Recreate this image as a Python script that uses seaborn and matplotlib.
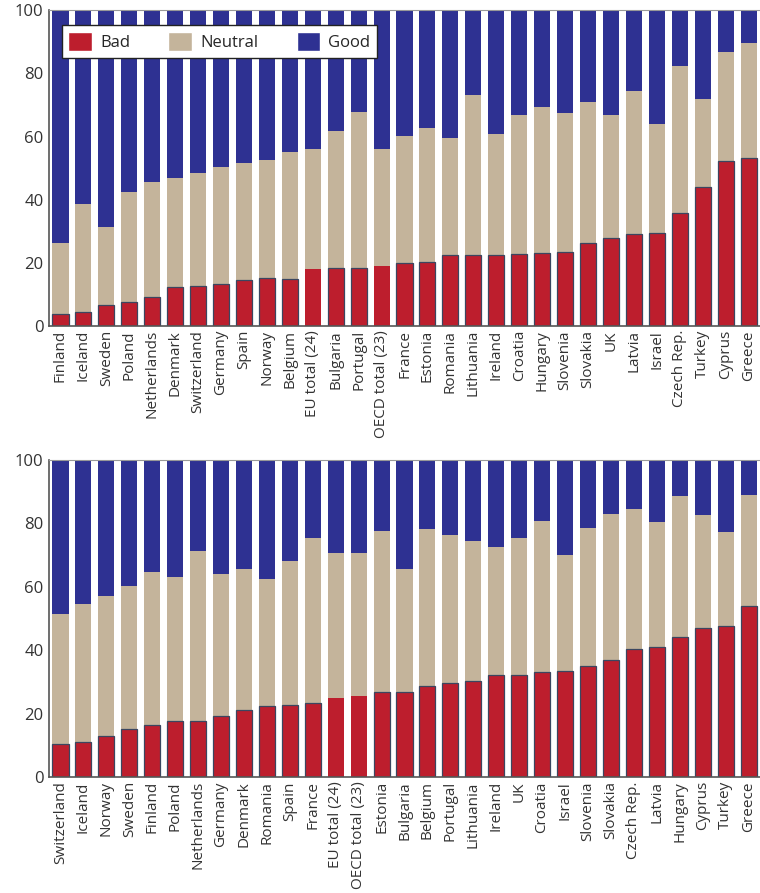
import numpy as np
import pandas as pd
import matplotlib
matplotlib.use("Agg")
import matplotlib.pyplot as plt
from matplotlib.patches import Patch
import seaborn as sns

# Top panel
top_countries = ["Finland", "Iceland", "Sweden", "Poland", "Netherlands", "Denmark",
                 "Switzerland", "Germany", "Spain", "Norway", "Belgium", "EU total (24)",
                 "Bulgaria", "Portugal", "OECD total (23)", "France", "Estonia", "Romania",
                 "Lithuania", "Ireland", "Croatia", "Hungary", "Slovenia", "Slovakia", "UK",
                 "Latvia", "Israel", "Czech Rep.", "Turkey", "Cyprus", "Greece"]
top_bad = [3.7, 4.3, 6.6, 7.5, 9.2, 12.3, 12.6, 13.2, 14.5, 15.1, 14.8, 17.9,
           18.5, 18.4, 18.9, 19.8, 20.1, 22.4, 22.4, 22.4, 22.7, 23.0, 23.3, 26.4, 28.0,
           29.0, 29.5, 35.7, 44.1, 52.4, 53.1]
top_neutral = [22.5, 34.2, 24.6, 34.8, 36.3, 34.7, 35.7, 37.0, 37.0, 37.6, 40.2, 38.0,
               43.4, 49.5, 37.3, 40.5, 42.5, 37.0, 50.9, 38.3, 44.0, 46.5, 44.3, 44.4, 38.7,
               45.3, 34.6, 46.8, 27.9, 34.5, 36.4]
top_good = [73.8, 61.5, 68.8, 57.7, 54.5, 53.0, 51.7, 49.8, 48.5, 47.3, 45.0, 44.1,
            38.1, 32.1, 43.8, 39.7, 37.4, 40.6, 26.7, 39.3, 33.3, 30.5, 32.4, 29.2, 33.3,
            25.7, 35.9, 17.5, 28.0, 13.1, 10.5]

# Bottom panel
bot_countries = ["Switzerland", "Iceland", "Norway", "Sweden", "Finland", "Poland",
                 "Netherlands", "Germany", "Denmark", "Romania", "Spain", "France",
                 "EU total (24)", "OECD total (23)", "Estonia", "Bulgaria", "Belgium",
                 "Portugal", "Lithuania", "Ireland", "UK", "Croatia", "Israel", "Slovenia",
                 "Slovakia", "Czech Rep.", "Latvia", "Hungary", "Cyprus", "Turkey", "Greece"]
bot_bad = [10.3, 11.0, 12.8, 15.1, 16.4, 17.6, 17.6, 19.2, 21.1, 22.3, 22.7, 23.2,
           24.9, 25.5, 26.8, 26.8, 28.8, 29.6, 30.3, 32.1, 32.3, 33.2, 33.4, 35.0,
           36.9, 40.4, 40.9, 44.1, 46.9, 47.7, 54.0]
bot_neutral = [41.2, 43.6, 44.4, 45.2, 48.4, 45.6, 53.8, 44.9, 44.6, 40.3, 45.5, 52.3,
               45.9, 45.3, 50.9, 38.9, 49.3, 46.6, 44.0, 40.3, 43.2, 47.7, 36.7, 43.7,
               46.2, 44.0, 39.4, 44.4, 35.9, 29.7, 35.1]
bot_good = [48.5, 45.4, 42.8, 39.7, 35.2, 36.8, 28.6, 35.9, 34.3, 37.4, 31.8, 24.5,
            29.2, 29.2, 22.3, 34.3, 21.9, 23.8, 25.7, 27.6, 24.5, 19.1, 29.9, 21.3,
            16.9, 15.6, 19.7, 11.5, 17.2, 22.6, 10.9]

RED = "#BD1E2D"
TAN = "#C4B49B"
BLUE = "#2E3192"

sns.set_style("white")
plt.rcParams["font.family"] = ["Open Sans", "DejaVu Sans"]

fig = plt.figure(figsize=(7.6, 8.93), dpi=100)
ax_top = fig.add_axes([0.0645, 0.635, 0.9355, 0.3535])
ax_bot = fig.add_axes([0.0645, 0.1299, 0.9355, 0.355])


def stacked(ax, countries, bad, neutral, good):
    df = pd.DataFrame({"country": countries, "bad": bad,
                       "neutral": neutral, "good": good})
    df["mid"] = df["bad"] + df["neutral"]
    df["top"] = df["mid"] + df["good"]
    sns.barplot(data=df, x="country", y="top", color=BLUE, width=0.7,
                saturation=1, linewidth=0, ax=ax)
    sns.barplot(data=df, x="country", y="mid", color=TAN, width=0.7,
                saturation=1, linewidth=0, ax=ax)
    sns.barplot(data=df, x="country", y="bad", color=RED, width=0.7,
                saturation=1, linewidth=0.9, edgecolor="#3b4660", ax=ax)
    # totals are drawn without the dark outline
    for patch, name in zip(ax.containers[-1], countries):
        if "total" in name:
            patch.set_edgecolor("none")

    ax.set_xlim(-0.5, len(countries) - 0.5)
    ax.set_ylim(0, 100)
    ax.set_yticks([0, 20, 40, 60, 80, 100])
    ax.set_xlabel("")
    ax.set_ylabel("")
    ax.tick_params(axis="x", labelrotation=90, labelsize=11, length=0, pad=3,
                   colors="#333333")
    ax.tick_params(axis="y", labelsize=12, length=0, pad=4, colors="#333333")
    for lbl in ax.get_xticklabels():
        lbl.set_va("top")
    ax.spines["left"].set_color("#555555")
    ax.spines["bottom"].set_color("#555555")
    ax.spines["left"].set_linewidth(1.2)
    ax.spines["bottom"].set_linewidth(1.2)
    ax.spines["top"].set_color("#999999")
    ax.spines["right"].set_visible(False)


stacked(ax_top, top_countries, top_bad, top_neutral, top_good)
stacked(ax_bot, bot_countries, bot_bad, bot_neutral, bot_good)

handles = [Patch(facecolor=RED), Patch(facecolor=TAN), Patch(facecolor=BLUE)]
leg = ax_top.legend(handles, ["Bad", "Neutral", "Good"], ncol=3,
                    loc="upper left", bbox_to_anchor=(0.018, 0.953),
                    borderaxespad=0, fontsize=12, handlelength=1.4, handleheight=1.4,
                    columnspacing=2.3, handletextpad=0.5, borderpad=0.4,
                    frameon=True, fancybox=False, framealpha=1, edgecolor="#222222")
leg.get_frame().set_linewidth(1.0)

fig.savefig("out.png", dpi=100)
